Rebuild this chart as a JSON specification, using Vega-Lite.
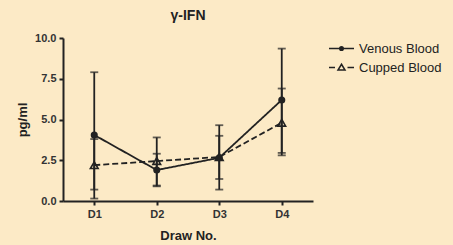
{
  "$schema": "https://vega.github.io/schema/vega-lite/v6.json",
  "autosize": "none",
  "width": 250,
  "height": 163,
  "padding": {"left": 63, "top": 38, "right": 140, "bottom": 44},
  "background": "#FCEAC6",
  "title": {"text": "γ-IFN", "fontSize": 14, "font": "Liberation Sans", "fontWeight": "bold", "color": "#222", "offset": 9, "anchor": "middle"},
  "data": {"values": [
    {"series": "Venous Blood", "draw": "D1", "mean": 4.05, "lower": 0.15, "upper": 7.9},
    {"series": "Venous Blood", "draw": "D2", "mean": 1.9, "lower": 0.9, "upper": 2.9},
    {"series": "Venous Blood", "draw": "D3", "mean": 2.65, "lower": 1.35, "upper": 4.0},
    {"series": "Venous Blood", "draw": "D4", "mean": 6.2, "lower": 2.95, "upper": 9.35},
    {"series": "Cupped Blood", "draw": "D1", "mean": 2.2, "lower": 0.7, "upper": 3.8},
    {"series": "Cupped Blood", "draw": "D2", "mean": 2.45, "lower": 0.95, "upper": 3.9},
    {"series": "Cupped Blood", "draw": "D3", "mean": 2.7, "lower": 0.7, "upper": 4.65},
    {"series": "Cupped Blood", "draw": "D4", "mean": 4.8, "lower": 2.8, "upper": 6.9}
  ]},
  "encoding": {
    "x": {"field": "draw", "type": "ordinal", "scale": {"type": "point", "padding": 0.5},
      "axis": {"title": "Draw No.", "labelAngle": 0, "titlePadding": 10}}
  },
  "layer": [
    {
      "mark": {"type": "line", "color": "#222", "strokeWidth": 1.8},
      "encoding": {
        "y": {"field": "mean", "type": "quantitative", "scale": {"domain": [0, 10]},
          "axis": {"title": "pg/ml", "values": [0, 2.5, 5, 7.5, 10], "format": ".1f", "grid": false, "titlePadding": 5}},
        "strokeDash": {"field": "series", "type": "nominal", "scale": {"domain": ["Venous Blood", "Cupped Blood"], "range": [[1, 0], [6, 3]]}, "legend": null}
      }
    },
    {
      "mark": {"type": "rule", "color": "#222", "strokeWidth": 1.8},
      "encoding": {"y": {"field": "lower", "type": "quantitative"}, "y2": {"field": "upper"}}
    },
    {
      "mark": {"type": "tick", "color": "#222", "size": 8, "thickness": 1.8},
      "encoding": {"y": {"field": "upper", "type": "quantitative"}}
    },
    {
      "mark": {"type": "tick", "color": "#222", "size": 8, "thickness": 1.8},
      "encoding": {"y": {"field": "lower", "type": "quantitative"}}
    },
    {
      "transform": [{"filter": "datum.series === 'Venous Blood'"}],
      "mark": {"type": "point", "shape": "circle", "filled": true, "color": "#222", "size": 50, "opacity": 1},
      "encoding": {"y": {"field": "mean", "type": "quantitative"}}
    },
    {
      "transform": [{"filter": "datum.series === 'Cupped Blood'"}],
      "mark": {"type": "point", "shape": "triangle-up", "filled": false, "color": "#222", "strokeWidth": 1.6, "size": 60, "opacity": 1},
      "encoding": {"y": {"field": "mean", "type": "quantitative"}}
    },
    {
      "transform": [{"filter": "false"}],
      "mark": {"type": "point", "filled": false, "color": "#222", "strokeWidth": 1.5, "opacity": 1},
      "encoding": {
        "y": {"field": "mean", "type": "quantitative"},
        "shape": {"field": "series", "type": "nominal",
          "scale": {"domain": ["Venous Blood", "Cupped Blood"],
            "range": ["M-2.5,0H2.5M0.12,0A0.12,0.12,0,1,1,-0.12,0A0.12,0.12,0,1,1,0.12,0ZM0.36,0A0.36,0.36,0,1,1,-0.36,0A0.36,0.36,0,1,1,0.36,0Z", "M-2.5,0H-1.3M1.2,0H2.5M0,-0.65L0.7,0.5L-0.7,0.5Z"]},
          "legend": {"title": null, "orient": "none", "legendX": 272, "legendY": 4, "labelOffset": 11, "symbolSize": 100, "symbolStrokeWidth": 1.5, "rowPadding": 5, "labelFontSize": 13, "labelFont": "Liberation Sans", "labelColor": "#222"}}
      }
    }
  ],
  "resolve": {"scale": {"shape": "independent"}},
  "config": {
    "view": {"stroke": null},
    "axis": {
      "domainColor": "#222", "domainWidth": 2, "tickColor": "#222", "tickWidth": 2, "tickSize": 4,
      "labelFont": "Liberation Sans", "labelFontWeight": "bold", "labelFontSize": 11, "labelColor": "#333", "labelPadding": 3,
      "titleFont": "Liberation Sans", "titleFontWeight": "bold", "titleFontSize": 13, "titleColor": "#222"
    }
  }
}
